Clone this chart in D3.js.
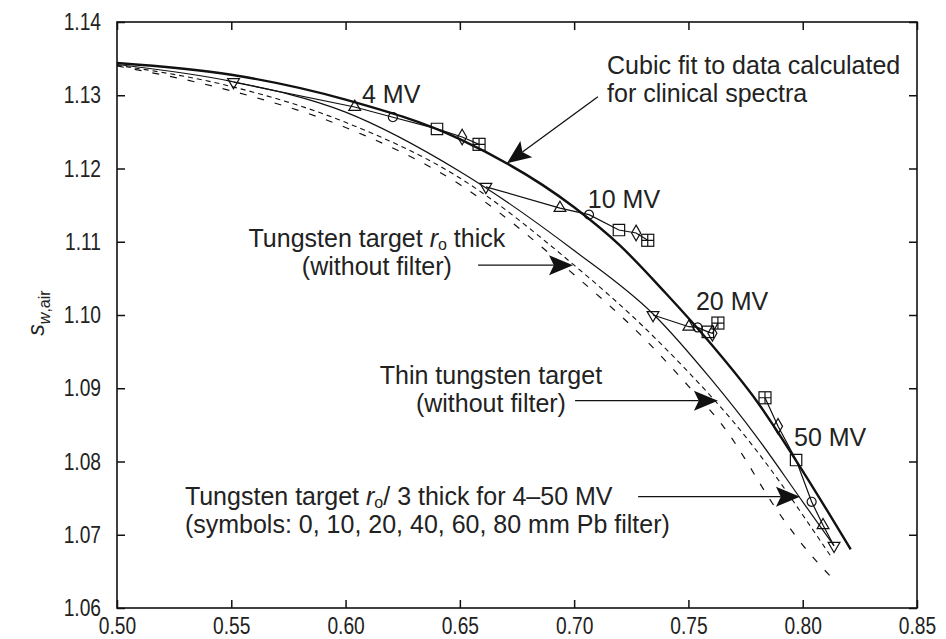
<!DOCTYPE html>
<html><head><meta charset="utf-8">
<script src="https://cdn.jsdelivr.net/npm/d3@7"></script>
<style>body{margin:0;background:#fff} svg{display:block}</style>
</head><body><svg id="c" width="946" height="639"></svg>
<script>
// ---------- data ----------
const xTicks = [0.50,0.55,0.60,0.65,0.70,0.75,0.80,0.85];
const yTicks = [1.06,1.07,1.08,1.09,1.10,1.11,1.12,1.13,1.14];

// Cubic fit to data calculated for clinical spectra (thick solid)
const cubicX = [0.50,0.55,0.60,0.65,0.70,0.72,0.74,0.76,0.78,0.80,0.821];
const cubicY = [1.1344,1.1328,1.1294,1.1240,1.1147,1.1095,1.1030,1.0960,1.0882,1.0787,1.0680];

// Tungsten target r0/3 thick, no filter (thin solid, through 0 mm points)
const r03X = [0.50,0.55,0.60,0.65,0.70,0.735,0.76,0.78,0.80,0.8137];
const r03Y = [1.1342,1.1319,1.1277,1.1196,1.1088,1.1000,1.0912,1.0833,1.0745,1.0685];

// Tungsten target r0 thick (without filter) (fine dashed)
const r0X = [0.50,0.55,0.60,0.65,0.70,0.73,0.75,0.77,0.79,0.80,0.812];
const r0Y = [1.1341,1.1312,1.1263,1.1187,1.1068,1.0985,1.0922,1.0853,1.0772,1.0727,1.0672];

// Thin tungsten target (without filter) (sparse dashed)
const thinX = [0.50,0.55,0.60,0.65,0.70,0.73,0.75,0.765,0.79,0.80,0.815];
const thinY = [1.1340,1.1306,1.1256,1.1178,1.1055,1.0970,1.0903,1.0849,1.0728,1.0686,1.0634];

// Pb filter series (0,10,20,40,60,80 mm) for each energy
const energies = ["4 MV","10 MV","20 MV","50 MV"];
const filtersMm = [0,10,20,40,60,80];
const filterSymbols = ["triangleDown","triangle","circle","square","diamond","squarePlus"];
const mv4X  = [0.551,0.604,0.6207,0.640,0.651,0.6584];
const mv4Y  = [1.1318,1.1284,1.1270,1.1254,1.1243,1.1233];
const mv10X = [0.6614,0.6938,0.7065,0.7196,0.7271,0.7322];
const mv10Y = [1.1175,1.1146,1.1137,1.1116,1.1112,1.1102];
const mv20X = [0.7345,0.7502,0.7540,0.7585,0.7605,0.7629];
const mv20Y = [1.1000,1.0984,1.0983,1.0977,1.0975,1.0989];
const mv50X = [0.8137,0.8089,0.8039,0.7971,0.7892,0.7835];
const mv50Y = [1.0685,1.0713,1.0745,1.0802,1.0848,1.0887];

// energy label anchors (data units)
const mvLabelX = [0.6072,0.706,0.7533,0.7962];
const mvLabelY = [1.1289,1.1146,1.1007,1.0821];

// ---------- chart ----------
const svg = d3.select("#c");
const x = d3.scaleLinear().domain([0.50,0.85]).range([117,917]);
const y = d3.scaleLinear().domain([1.06,1.14]).range([608,22]);
const tickFont = "'Liberation Sans',Arial,Helvetica,sans-serif";
const textFont = "'Liberation Sans',Arial,Helvetica,sans-serif";
const narrow = 0.8;

// axes
const gB = svg.append("g").attr("transform",`translate(0,${y.range()[0]})`)
  .call(d3.axisBottom(x).tickValues(xTicks).tickSizeInner(-8).tickSizeOuter(0).tickPadding(9).tickFormat(d3.format(".2f")));
const gL = svg.append("g").attr("transform",`translate(${x.range()[0]},0)`)
  .call(d3.axisLeft(y).tickValues(yTicks).tickSizeInner(-8).tickSizeOuter(0).tickPadding(16).tickFormat(d3.format(".2f")));
const gT = svg.append("g").attr("transform",`translate(0,${y.range()[1]})`)
  .call(d3.axisTop(x).tickValues(xTicks).tickSizeInner(-8).tickSizeOuter(0).tickFormat(""));
const gR = svg.append("g").attr("transform",`translate(${x.range()[1]},0)`)
  .call(d3.axisRight(y).tickValues(yTicks).tickSizeInner(-8).tickSizeOuter(0).tickFormat(""));
[gB,gL,gT,gR].forEach(g=>{
  g.select(".domain").remove();
  g.selectAll(".tick line").attr("stroke","#111").attr("stroke-width",1.5);
  g.selectAll(".tick text").attr("font-family",tickFont).attr("font-size",24).attr("fill","#222");
});
gB.selectAll(".tick text").attr("transform",`scale(${narrow},1)`);
gL.selectAll(".tick text").attr("x",-16/narrow).attr("transform",`scale(${narrow},1)`);
svg.append("rect").attr("x",x.range()[0]).attr("y",y.range()[1])
  .attr("width",x.range()[1]-x.range()[0]).attr("height",y.range()[0]-y.range()[1])
  .attr("fill","none").attr("stroke","#111").attr("stroke-width",1.6);

// y title
const yt = svg.append("text").attr("transform","translate(44,313) rotate(-90)")
  .attr("text-anchor","middle").attr("font-family",textFont).attr("font-size",23).attr("fill","#222");
yt.append("tspan").attr("font-style","italic").text("s");
yt.append("tspan").attr("font-style","italic").attr("font-size",16).attr("dy",6).text("w");
yt.append("tspan").attr("font-size",16).text(",air");

// curves
const line = (xs,ys) => d3.line().x((d,i)=>x(xs[i])).y((d,i)=>y(ys[i])).curve(d3.curveMonotoneX)(xs);
svg.append("path").attr("d",line(thinX,thinY)).attr("fill","none").attr("stroke","#111").attr("stroke-width",1.2).attr("stroke-dasharray","7,11");
svg.append("path").attr("d",line(r0X,r0Y)).attr("fill","none").attr("stroke","#111").attr("stroke-width",1.1).attr("stroke-dasharray","5,4");
svg.append("path").attr("d",line(r03X,r03Y)).attr("fill","none").attr("stroke","#111").attr("stroke-width",1.2);
svg.append("path").attr("d",line(cubicX,cubicY)).attr("fill","none").attr("stroke","#111").attr("stroke-width",2.4);

// filter series
const seriesX = [mv4X,mv10X,mv20X,mv50X], seriesY = [mv4Y,mv10Y,mv20Y,mv50Y];
const straight = (xs,ys) => d3.line().x((d,i)=>x(xs[i])).y((d,i)=>y(ys[i]))(xs);
seriesX.forEach((xs,k)=>{
  const ys = seriesY[k];
  svg.append("path").attr("d",straight(xs,ys)).attr("fill","none").attr("stroke","#111").attr("stroke-width",1.2);
  const g = svg.append("g");
  filtersMm.forEach((f,i)=>{
    const s = filterSymbols[i], px = x(xs[i]), py = y(ys[i]);
    const m = g.append("g").attr("transform",`translate(${px},${py})`);
    const app = el => el.attr("fill","none").attr("stroke","#111").attr("stroke-width",1.2);
    if (s==="squarePlus") {
      app(m.append("rect").attr("x",-6).attr("y",-6).attr("width",12).attr("height",12));
      app(m.append("path").attr("d","M0,-6V6M-6,0H6"));
    } else if (s==="triangleDown") {
      app(m.append("path").attr("d",d3.symbol(d3.symbolTriangle,60)()).attr("transform","rotate(180)"));
    } else if (s==="triangle") {
      app(m.append("path").attr("d",d3.symbol(d3.symbolTriangle,60)()));
    } else if (s==="circle") {
      app(m.append("path").attr("d",d3.symbol(d3.symbolCircle,64)()));
    } else if (s==="square") {
      app(m.append("path").attr("d",d3.symbol(d3.symbolSquare,130)()));
    } else if (s==="diamond") {
      app(m.append("path").attr("d",d3.symbol(d3.symbolDiamond,70)()));
    }
  });
});

// energy labels
energies.forEach((e,i)=>{
  svg.append("text").attr("x",x(mvLabelX[i])).attr("y",y(mvLabelY[i]))
    .attr("font-family",textFont).attr("font-size",25).attr("fill","#222").text(e);
});

// annotation texts: one <text> per line
function note(px,py,anchor,lines){
  lines.forEach((segs,li)=>{
    const t = svg.append("text").attr("font-family",textFont).attr("font-size",25)
      .attr("fill","#222").attr("text-anchor",anchor).attr("x",px).attr("y",py+li*28);
    segs.forEach(sg=>{
      const ts = t.append("tspan");
      if (sg.i) ts.attr("font-style","italic");
      if (sg.sub) ts.attr("font-size",16).attr("dy",3);
      if (sg.unsub) ts.attr("dy",-3);
      ts.text(sg.t);
    });
  });
}
note(x(0.7144), y(1.1329), "start", [[{t:"Cubic fit to data calculated"}],[{t:"for clinical spectra"}]]);
note(x(0.6137), y(1.1093), "middle", [[{t:"Tungsten target "},{t:"r",i:1},{t:"o",sub:1},{t:" thick",unsub:1}],[{t:"(without filter)"}]]);
note(x(0.6636), y(1.0906), "middle", [[{t:"Thin tungsten target"}],[{t:"(without filter)"}]]);
note(x(0.5297), y(1.0741), "start", [[{t:"Tungsten target "},{t:"r",i:1},{t:"o",sub:1},{t:"/ 3 thick for 4\u201350 MV",unsub:1}],[{t:"(symbols: 0, 10, 20, 40, 60, 80 mm Pb filter)"}]]);

// arrows (start -> tip, data units)
const arrowFromX = [0.7104,0.658,0.7004,0.7280];
const arrowFromY = [1.1298,1.1068,1.0883,1.0752];
const arrowToX   = [0.6706,0.6995,0.7629,0.7988];
const arrowToY   = [1.1207,1.1068,1.0883,1.0752];
arrowFromX.forEach((_,i)=>{
  const x0=x(arrowFromX[i]), y0=y(arrowFromY[i]), x1=x(arrowToX[i]), y1=y(arrowToY[i]);
  const L = Math.hypot(x1-x0,y1-y0), ux=(x1-x0)/L, uy=(y1-y0)/L, nx=-uy, ny=ux;
  const hl=24, hw=10;
  svg.append("line").attr("x1",x0).attr("y1",y0).attr("x2",x1-ux*hl*0.8).attr("y2",y1-uy*hl*0.8)
    .attr("stroke","#111").attr("stroke-width",1.3);
  const bx=x1-ux*hl, by=y1-uy*hl;
  svg.append("path").attr("d",`M${x1},${y1}L${bx+nx*hw},${by+ny*hw}L${x1-ux*hl*0.8},${y1-uy*hl*0.8}L${bx-nx*hw},${by-ny*hw}Z`)
    .attr("fill","#111");
});
</script>
</body></html>
